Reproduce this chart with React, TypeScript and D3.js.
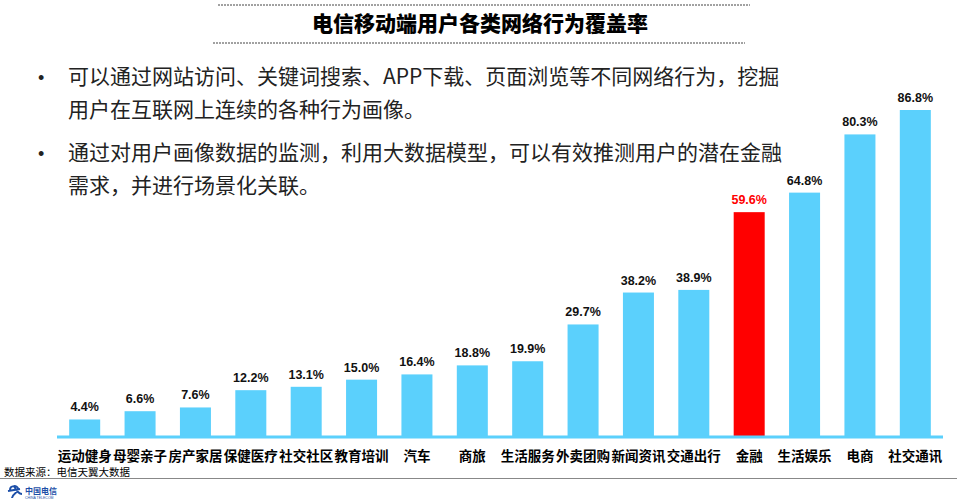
import React from "react";
import * as d3 from "d3";

const categories = ["运动健身", "母婴亲子", "房产家居", "保健医疗", "社交社区", "教育培训", "汽车", "商旅", "生活服务", "外卖团购", "新闻资讯", "交通出行", "金融", "生活娱乐", "电商", "社交通讯"];
const values = [4.4, 6.6, 7.6, 12.2, 13.1, 15.0, 16.4, 18.8, 19.9, 29.7, 38.2, 38.9, 59.6, 64.8, 80.3, 86.8];
const highlight = "金融";
const title = "电信移动端用户各类网络行为覆盖率";
const bullets = [
  ["可以通过网站访问、关键词搜索、APP下载、页面浏览等不同网络行为，挖掘", "用户在互联网上连续的各种行为画像。"],
  ["通过对用户画像数据的监测，利用大数据模型，可以有效推测用户的潜在金融", "需求，并进行场景化关联。"],
];
const source = "数据来源：电信天翼大数据";

const W = 957, H = 504;
const CJK = "'Noto Sans CJK SC', 'Noto Sans', sans-serif";
const ARIAL = "'Liberation Sans', Arial, sans-serif";
const BLUE = "#5BD0FC";
const RED = "#FF0000";

export default function App() {
  const x = d3.scaleBand<string>().domain(categories).range([57, 943]).paddingInner(0.44).paddingOuter(0.22);
  const y = d3.scaleLinear().domain([0, 86.8]).range([436, 110]);
  return (
    <svg width={W} height={H} style={{ position: "absolute", left: 0, top: 0, background: "#fff" }}>
      <line x1={218} x2={750} y1={5} y2={5} stroke="#444" strokeWidth={1} strokeDasharray="2,1" />
      <line x1={213} x2={745} y1={43} y2={43} stroke="#444" strokeWidth={1} strokeDasharray="2,1" />
      <text x={480} y={31} textAnchor="middle" fontFamily={CJK} fontWeight="900" fontSize={21} fill="#000">{title}</text>
      {bullets.map((b, i) => (
        <g key={i}>
          <text x={38} y={84 + i * 76} fontFamily={ARIAL} fontSize={18} fill="#222">•</text>
          {b.map((line, j) => (
            <text key={j} x={68} y={84 + i * 76 + j * 33} fontFamily={CJK} fontSize={21} fill="#222">{line}</text>
          ))}
        </g>
      ))}
      {categories.map((c, i) => {
        const v = values[i];
        const isH = c === highlight;
        const bx = x(c)!;
        return (
          <g key={c}>
            <rect x={bx} y={y(v)} width={x.bandwidth()} height={436 - y(v)} fill={isH ? RED : BLUE} />
            <text x={bx + x.bandwidth() / 2} y={y(v) - 8} textAnchor="middle" fontFamily={ARIAL} fontWeight="bold" fontSize={12.5} fill={isH ? RED : "#111"}>{v.toFixed(1)}%</text>
            <text x={bx + x.bandwidth() / 2} y={461} textAnchor="middle" fontFamily={CJK} fontWeight="bold" fontSize={13.5} fill="#000">{c}</text>
          </g>
        );
      })}
      <line x1={57} x2={943} y1={437} y2={437} stroke={BLUE} strokeWidth={3} />
      <text x={4} y={476} fontFamily={CJK} fontSize={10.5} fill="#000">{source}</text>
      <line x1={0} x2={957} y1={478.5} y2={478.5} stroke="#888" strokeWidth={1} />
      <g transform="translate(8,484)">
        <path d="M2,6 C2,1 10,1 10,5 C10,9 4,10 4,14 M0,7 L12,5 M6,2 C9,8 12,10 14,10" stroke="#1d4fa8" strokeWidth={2} fill="none" />
        <text x={17} y={10} fontFamily={CJK} fontSize={8} fontWeight="bold" fill="#1d4fa8">中国电信</text>
        <text x={17} y={15} fontFamily={ARIAL} fontSize={3.5} fill="#1d4fa8">CHINA TELECOM</text>
      </g>
    </svg>
  );
}
